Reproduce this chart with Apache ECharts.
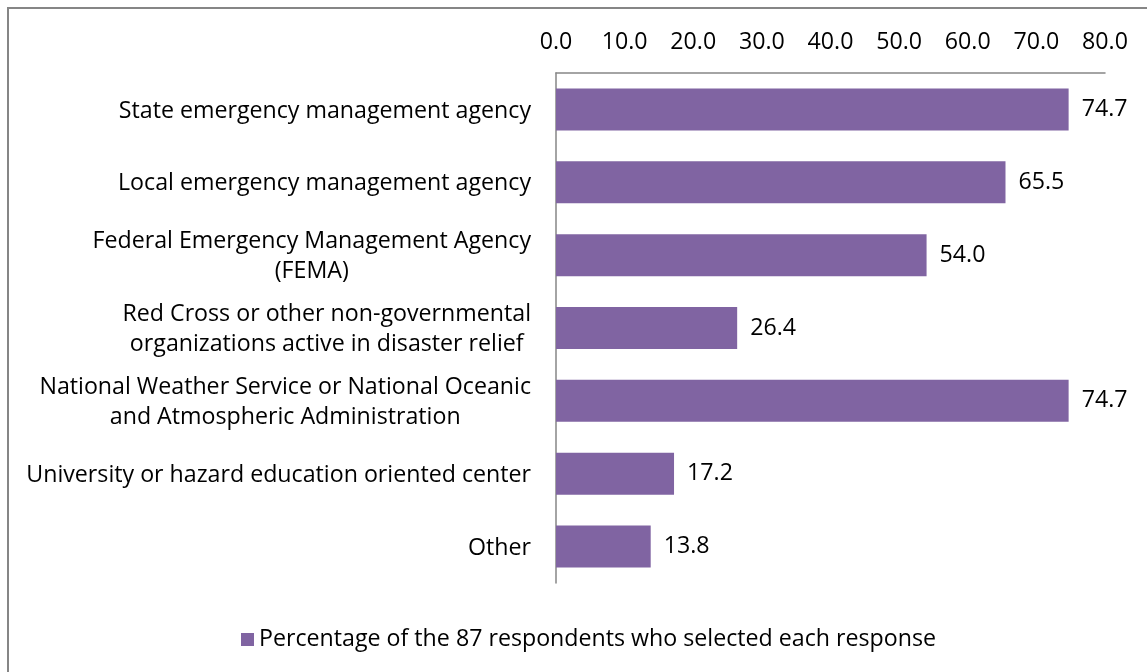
<!DOCTYPE html>
<html>
<head>
<meta charset="utf-8">
<script src="https://cdn.jsdelivr.net/npm/echarts@6/dist/echarts.min.js"></script>
<style>
  html, body { margin: 0; padding: 0; background: #fff; overflow: hidden; }
  #frame { position: absolute; left: 7px; top: 7px; width: 1200px; height: 700px; border: 2px solid #868686; box-sizing: border-box; }
  #main { position: absolute; left: 0; top: 0; width: 1147px; height: 672px; }
</style>
</head>
<body>
<div id="frame"></div>
<div id="main"></div>
<script>
  // categories top to bottom
  var categories = [
    'State emergency management agency',
    'Local emergency management agency',
    'Federal Emergency Management Agency\n(FEMA)',
    'Red Cross or other non-governmental\norganizations active in disaster relief',
    'National Weather Service or National Oceanic\nand Atmospheric Administration',
    'University or hazard education oriented center',
    'Other'
  ]
  var values = [74.7, 65.5, 54.0, 26.4, 74.7, 17.2, 13.8]
  var seriesName = 'Percentage of the 87 respondents who selected each response'

  var font = '"Open Sans", sans-serif'
  var fs = 23.2
  var myChart = echarts.init(document.getElementById('main'))
  var option = {
    backgroundColor: 'transparent',
    animation: false,
    grid: { left: 556, top: 73, right: 42, bottom: 89 },
    xAxis: {
      type: 'value',
      position: 'top',
      min: 0,
      max: 80,
      interval: 10,
      axisLine: { show: true, lineStyle: { color: '#868686', width: 1.5 } },
      axisTick: { show: false },
      splitLine: { show: false },
      axisLabel: {
        margin: 19,
        fontSize: fs,
        fontFamily: font,
        color: '#000',
        formatter: function (v) { return v.toFixed(1) }
      }
    },
    yAxis: {
      type: 'category',
      inverse: true,
      data: categories,
      axisLine: { show: true, lineStyle: { color: '#868686', width: 1.5 } },
      axisTick: { show: false },
      axisLabel: {
        margin: 25,
        fontSize: fs,
        fontFamily: font,
        color: '#000',
        lineHeight: 30,
        formatter: function (v) {
          return v.split('\n').map(function (s) { return '{c|' + s + '}' }).join('\n')
        },
        rich: {
          c: { align: 'center', fontSize: fs, fontFamily: font, color: '#000', lineHeight: 30, padding: [3, 0, 0, 0] }
        }
      }
    },
    legend: {
      left: 236,
      top: 623,
      icon: 'rect',
      itemWidth: 13,
      itemHeight: 13,
      itemGap: 6,
      textStyle: { fontSize: fs, fontFamily: font, color: '#000' },
      data: [seriesName]
    },
    series: [{
      name: seriesName,
      type: 'bar',
      data: values,
      barWidth: 42,
      itemStyle: { color: '#8064A2' },
      label: {
        show: true,
        position: 'right',
        distance: 13,
        fontSize: fs,
        fontFamily: font,
        color: '#000',
        formatter: function (p) { return p.value.toFixed(1) }
      }
    }]
  }
  myChart.setOption(option)
</script>
</body>
</html>
